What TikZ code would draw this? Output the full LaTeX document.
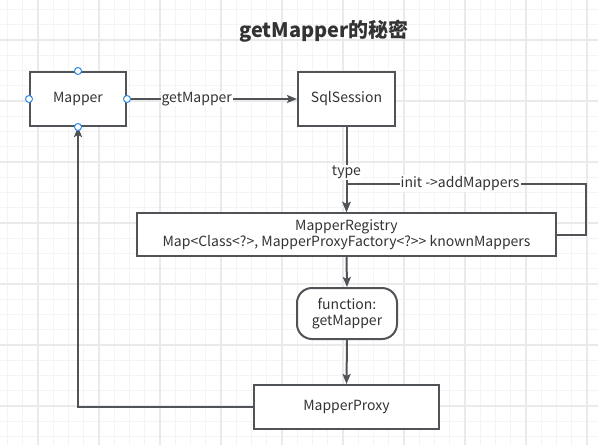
\documentclass[tikz,border=0pt]{standalone}
\usepackage{fontspec}
\setmainfont{Noto Sans CJK SC}
\usetikzlibrary{arrows.meta}
\definecolor{minorg}{HTML}{F4F4F4}
\definecolor{majorg}{HTML}{EAEAEA}
\definecolor{ln}{HTML}{505459}
\definecolor{txt}{HTML}{333333}
\definecolor{portc}{HTML}{2F8BE6}
\begin{document}
\begin{tikzpicture}[x=1pt,y=-1pt,
  box/.style={draw=ln,line width=2pt,fill=white,minimum width=#1,inner sep=0pt,text=txt,font=\fontsize{14}{16.5}\selectfont,align=center},
  arr/.style={draw=ln,line width=2pt,-{Stealth[length=10pt,width=8pt,inset=2pt]}},
  lbl/.style={fill=white,inner sep=1pt,text=txt,font=\fontsize{14}{16.5}\selectfont},
  port/.style={circle,draw=portc,fill=white,line width=1pt,minimum size=7pt,inner sep=0pt}]
\useasboundingbox (0,0) rectangle (598,445);
\fill[white] (0,0) rectangle (598,445);
% grid
\foreach \i in {-2,...,36} {\draw[minorg,line width=1pt] ({38+15.25*\i},0) -- ({38+15.25*\i},445);}
\foreach \i in {-2,...,28} {\draw[minorg,line width=1pt] (0,{40+15.25*\i}) -- (598,{40+15.25*\i});}
\foreach \i in {-1,...,9} {\draw[majorg,line width=1.3pt] ({38+61*\i},0) -- ({38+61*\i},445);}
\foreach \i in {-1,...,7} {\draw[majorg,line width=1.3pt] (0,{40+61*\i}) -- (598,{40+61*\i});}
% title
\node[text=txt,font=\fontsize{20}{24}\selectfont\bfseries] (title) at (324,31) {getMapper的秘密};
% nodes
\node[box=96pt,minimum height=54pt] (mapper) at (78,99) {Mapper};
\node[box=97pt,minimum height=54pt] (sql) at (346.5,99) {SqlSession};
\node[box=419pt,minimum height=43pt] (reg) at (346.5,234.5) {MapperRegistry\\Map<Class<?>, MapperProxyFactory<?>{}> knownMappers};
\node[box=100pt,minimum height=51pt,rounded corners=15pt] (fn) at (347,313.5) {function:\\getMapper};
\node[box=185pt,minimum height=44pt] (proxy) at (346.5,407) {MapperProxy};
% connectors
\draw[arr] (mapper.east) -- node[lbl,pos=0.41] {getMapper} (sql.west);
\draw[arr] (sql.south) -- node[lbl,pos=0.53] {type} (reg.north);
\coordinate (lr) at (585.7,234.5);
\coordinate (lt) at (585.7,183.5);
\coordinate (lj) at (346.5,183.5);
\draw[arr] (reg.east) -- (lr) -- (lt) -- node[lbl,pos=0.525] {init ->addMappers} (lj) -- (reg.north);
\draw[arr] (reg.south) -- (fn.north);
\draw[arr] (fn.south) -- (proxy.north);
\draw[arr] (proxy.west) -| (mapper.south);
% ports
\node[port] (pn) at (mapper.north) {};
\node[port] (pw) at (mapper.west) {};
\node[port] (pe) at (mapper.east) {};
\node[port] (ps) at (mapper.south) {};
\end{tikzpicture}
\end{document}
